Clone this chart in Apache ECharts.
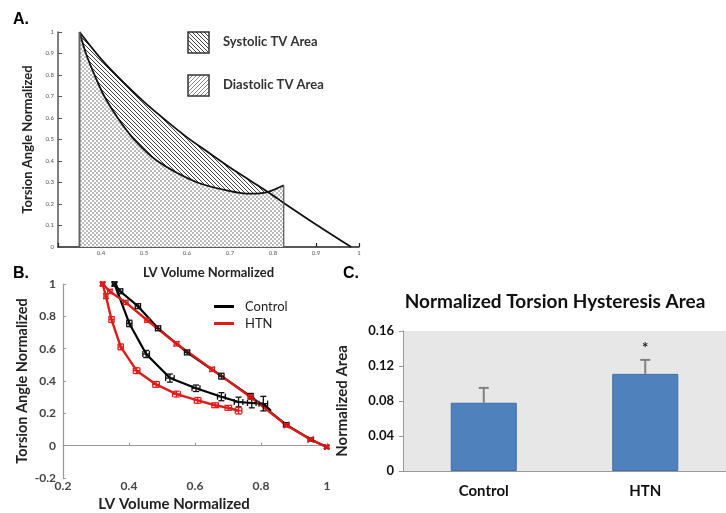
<!DOCTYPE html>
<html>
<head>
<meta charset="utf-8">
<script src="https://cdn.jsdelivr.net/npm/echarts@6/dist/echarts.min.js"></script>
<style>
  html, body { margin: 0; padding: 0; background: #fff; }
  #main { width: 726px; height: 513px; }
</style>
</head>
<body>
<div id="main"></div>
<script>
// Panel A: idealised torsion-volume loop
const sysCurve = [[0.35, 1], [0.4, 0.875], [0.45, 0.77], [0.5, 0.675], [0.55, 0.59], [0.6, 0.51],
  [0.65, 0.44], [0.7, 0.37], [0.75, 0.305], [0.8, 0.24], [0.825, 0.205], [0.9, 0.105], [0.982, 0]];
const sysArea = [[0.35, 1], [0.4, 0.875], [0.45, 0.77], [0.5, 0.675], [0.55, 0.59], [0.6, 0.51],
  [0.65, 0.44], [0.7, 0.37], [0.75, 0.305], [0.8, 0.24], [0.825, 0.205]];
const diaCurve = [[0.35, 1], [0.365, 0.9], [0.385, 0.8], [0.408, 0.7], [0.439, 0.6], [0.477, 0.5],
  [0.531, 0.4], [0.624, 0.3], [0.7, 0.26], [0.748, 0.248], [0.785, 0.254], [0.825, 0.287]];
const edgeLeft = [[0.35, 0], [0.35, 1]];
const edgeRight = [[0.825, 0], [0.825, 0.287]];
const legendA = ['Systolic TV Area', 'Diastolic TV Area'];

// Panel B: measured loops, [x, y] and [xErr, yErr]
const ctrlUpper = [[0.356, 1.0], [0.373, 0.955], [0.427, 0.863], [0.488, 0.726], [0.576, 0.577],
  [0.68, 0.43], [0.769, 0.305], [0.876, 0.13], [0.951, 0.038], [0.999, -0.008]];
const ctrlUpperErr = [[0.006, 0.012], [0.008, 0.015], [0.008, 0.015], [0.008, 0.015], [0.008, 0.015],
  [0.008, 0.018], [0.008, 0.018], [0.008, 0.012], [0.008, 0.01], [0.006, 0.01]];
const ctrlLower = [[0.356, 1.0], [0.401, 0.756], [0.452, 0.567], [0.524, 0.418], [0.603, 0.355],
  [0.68, 0.303], [0.732, 0.27], [0.772, 0.264], [0.807, 0.26], [0.83, 0.215]];
const ctrlLowerErr = [[0.006, 0.012], [0.008, 0.02], [0.01, 0.022], [0.013, 0.025], [0.012, 0.02],
  [0.012, 0.025], [0.013, 0.03], [0.013, 0.03], [0.013, 0.045], [0, 0]];
const htnUpper = [[0.32, 1.0], [0.342, 0.954], [0.39, 0.886], [0.455, 0.776], [0.544, 0.63],
  [0.652, 0.472], [0.769, 0.3], [0.878, 0.125], [0.95, 0.038], [0.999, -0.008]];
const htnUpperErr = [[0.006, 0.012], [0.007, 0.013], [0.007, 0.013], [0.007, 0.013], [0.007, 0.013],
  [0.007, 0.013], [0.007, 0.013], [0.007, 0.01], [0.007, 0.01], [0.005, 0.008]];
const htnLower = [[0.32, 1.0], [0.33, 0.925], [0.347, 0.78], [0.375, 0.611], [0.423, 0.464],
  [0.482, 0.379], [0.544, 0.319], [0.608, 0.28], [0.661, 0.25], [0.701, 0.234], [0.732, 0.216]];
const htnLowerErr = [[0.005, 0.01], [0.006, 0.015], [0.008, 0.018], [0.008, 0.018], [0.01, 0.018],
  [0.01, 0.018], [0.012, 0.018], [0.01, 0.018], [0.01, 0.015], [0.01, 0.015], [0.01, 0.02]];

// Panel C: hysteresis area bars
const groups = ['Control', 'HTN'];
const areaMean = [0.078, 0.111];
const areaErr = [0.017, 0.016];

const FONT = 'Lato, "Open Sans", sans-serif';

function hatch(forward, color) {
  const s = 4;
  const c = document.createElement('canvas');
  c.width = c.height = s;
  const g = c.getContext('2d');
  g.strokeStyle = color;
  g.lineWidth = 1;
  g.beginPath();
  if (forward) {
    g.moveTo(0, s); g.lineTo(s, 0);
    g.moveTo(-1, 1); g.lineTo(1, -1);
    g.moveTo(s - 1, s + 1); g.lineTo(s + 1, s - 1);
  } else {
    g.moveTo(0, 0); g.lineTo(s, s);
    g.moveTo(-1, s - 1); g.lineTo(1, s + 1);
    g.moveTo(s - 1, -1); g.lineTo(s + 1, 1);
  }
  g.stroke();
  return c;
}

// fine grey checkerboard, opaque, for the overlap under the diastolic curve
function checker() {
  const c = document.createElement('canvas');
  c.width = c.height = 4;
  const g = c.getContext('2d');
  g.fillStyle = '#fff';
  g.fillRect(0, 0, 4, 4);
  g.fillStyle = '#bdbdbd';
  g.fillRect(0, 0, 2, 2);
  g.fillRect(2, 2, 2, 2);
  return c;
}

const sysPattern = { image: hatch(false, '#444'), repeat: 'repeat' };
const diaPattern = { image: hatch(true, '#888'), repeat: 'repeat' };
const overlapPattern = { image: checker(), repeat: 'repeat' };

function withErr(points, errs) {
  return points.map((p, i) => [p[0], p[1], errs[i][0], errs[i][1]]);
}

function errRender(color) {
  return function (params, api) {
    const x = api.value(0), y = api.value(1), ex = api.value(2), ey = api.value(3);
    if (!ex && !ey) return;
    const l = api.coord([x - ex, y]), r = api.coord([x + ex, y]);
    const t = api.coord([x, y + ey]), b = api.coord([x, y - ey]);
    const c = 3;
    const st = { stroke: color, lineWidth: 1.3 };
    const seg = (x1, y1, x2, y2) => ({ type: 'line', shape: { x1, y1, x2, y2 }, style: st });
    return {
      type: 'group',
      children: [
        seg(l[0], l[1], r[0], r[1]),
        seg(l[0], l[1] - c, l[0], l[1] + c),
        seg(r[0], r[1] - c, r[0], r[1] + c),
        seg(t[0], t[1], b[0], b[1]),
        seg(t[0] - c, t[1], t[0] + c, t[1]),
        seg(b[0] - c, b[1], b[0] + c, b[1])
      ]
    };
  };
}

const chart = echarts.init(document.getElementById('main'));

const boldName = (size) => ({ fontFamily: FONT, fontWeight: 'bold', fontSize: size, color: '#222' });

const option = {
  animation: false,
  backgroundColor: '#fff',
  textStyle: { fontFamily: FONT },
  legend: {
    data: ['Control', 'HTN'],
    orient: 'vertical',
    left: 209,
    top: 295,
    icon: 'rect',
    itemWidth: 20,
    itemHeight: 3,
    itemGap: 4,
    textStyle: { fontFamily: FONT, fontSize: 13, color: '#222', padding: [0, 0, 0, 6] }
  },
  grid: [
    { left: 58, top: 32, width: 301, height: 215 },
    { left: 63, top: 284, width: 264, height: 202 },
    { left: 403, top: 331, width: 323, height: 140, show: true, backgroundColor: '#e7e7e7', borderWidth: 0 }
  ],
  xAxis: [
    {
      gridIndex: 0, type: 'value', min: 0.3, max: 1, interval: 0.1,
      name: 'LV Volume Normalized', nameLocation: 'middle', nameGap: 19,
      nameTextStyle: boldName(13),
      axisLine: { lineStyle: { color: '#222', width: 1.5 } },
      axisTick: { inside: true, length: 4, lineStyle: { color: '#222', width: 1.2 } },
      axisLabel: {
        fontSize: 6, color: '#555', margin: 3,
        formatter: v => (Math.abs(v - 0.3) < 1e-6 ? '' : String(+v.toFixed(1)))
      },
      splitLine: { show: false }
    },
    {
      gridIndex: 1, type: 'value', min: 0.2, max: 1, interval: 0.2,
      name: 'LV Volume Normalized', nameLocation: 'middle', nameGap: 19,
      nameTextStyle: Object.assign(boldName(15), { padding: [0, 42, 0, 0] }),
      axisLine: { lineStyle: { color: '#999', width: 1.2 } },
      axisTick: { inside: true, length: 3, lineStyle: { color: '#999' } },
      axisLabel: { fontSize: 12, fontWeight: 'bold', color: '#444', margin: 2 },
      splitLine: { show: false }
    },
    {
      gridIndex: 2, type: 'category', data: groups,
      axisLine: { lineStyle: { color: '#999' } },
      axisTick: { length: 5, lineStyle: { color: '#999' } },
      axisLabel: { fontSize: 15, fontWeight: 'bold', color: '#111', margin: 13 }
    }
  ],
  yAxis: [
    {
      gridIndex: 0, type: 'value', min: 0, max: 1, interval: 0.1,
      name: 'Torsion Angle Normalized', nameLocation: 'middle', nameGap: 24,
      nameTextStyle: boldName(13),
      axisLine: { show: true, lineStyle: { color: '#555', width: 1.5 } },
      axisTick: { show: true, inside: true, length: 4, lineStyle: { color: '#555' } },
      axisLabel: { fontSize: 6, color: '#555', margin: 4 },
      splitLine: { show: false }
    },
    {
      gridIndex: 1, type: 'value', min: -0.2, max: 1, interval: 0.2,
      name: 'Torsion Angle Normalized', nameLocation: 'middle', nameGap: 33,
      nameTextStyle: boldName(14.5),
      axisLine: { show: true, lineStyle: { color: '#999', width: 1.2 } },
      axisTick: { show: true, inside: true, length: 3, lineStyle: { color: '#999' } },
      axisLabel: { fontSize: 12, fontWeight: 'bold', color: '#444', margin: 7 },
      splitLine: { show: false }
    },
    {
      gridIndex: 2, type: 'value', min: 0, max: 0.16, interval: 0.04,
      name: 'Normalized Area', nameLocation: 'middle', nameGap: 53,
      nameTextStyle: boldName(15),
      axisLine: { show: true, lineStyle: { color: '#999' } },
      axisTick: { show: true, length: 4, lineStyle: { color: '#999' } },
      axisLabel: { fontSize: 13, fontWeight: 'bold', color: '#111', margin: 9 },
      splitLine: { show: false }
    }
  ],
  series: [
    // Panel A
    {
      type: 'line', xAxisIndex: 0, yAxisIndex: 0, data: diaCurve, smooth: 0.3,
      showSymbol: false, lineStyle: { width: 0, opacity: 0 },
      areaStyle: { color: diaPattern, opacity: 1 }, z: 1, silent: true
    },
    {
      type: 'line', xAxisIndex: 0, yAxisIndex: 0, data: sysArea, smooth: 0.3,
      showSymbol: false, lineStyle: { width: 0, opacity: 0 },
      areaStyle: { color: sysPattern, opacity: 1 }, z: 1, silent: true
    },
    {
      type: 'line', xAxisIndex: 0, yAxisIndex: 0, data: diaCurve, smooth: 0.3,
      showSymbol: false, lineStyle: { color: '#111', width: 1.8 },
      areaStyle: { color: overlapPattern, opacity: 1 }, z: 2, silent: true
    },
    {
      type: 'line', xAxisIndex: 0, yAxisIndex: 0, data: sysCurve, smooth: 0.3,
      showSymbol: false, lineStyle: { color: '#111', width: 1.8 }, z: 3, silent: true
    },
    {
      type: 'line', xAxisIndex: 0, yAxisIndex: 0, data: edgeLeft,
      showSymbol: false, lineStyle: { color: '#666', width: 2 }, z: 3, silent: true
    },
    {
      type: 'line', xAxisIndex: 0, yAxisIndex: 0, data: edgeRight,
      showSymbol: false, lineStyle: { color: '#555', width: 1.2 }, z: 3, silent: true
    },
    // Panel B
    {
      name: 'Control', type: 'line', xAxisIndex: 1, yAxisIndex: 1, data: ctrlUpper,
      showSymbol: false, color: '#000', lineStyle: { color: '#000', width: 2.2 }, z: 3
    },
    {
      name: 'Control', type: 'line', xAxisIndex: 1, yAxisIndex: 1, data: ctrlLower,
      showSymbol: false, color: '#000', lineStyle: { color: '#000', width: 2.2 }, z: 3
    },
    {
      name: 'HTN', type: 'line', xAxisIndex: 1, yAxisIndex: 1, data: htnUpper,
      showSymbol: false, color: '#dd1c1a', lineStyle: { color: '#dd1c1a', width: 2.4 }, z: 4
    },
    {
      name: 'HTN', type: 'line', xAxisIndex: 1, yAxisIndex: 1, data: htnLower,
      showSymbol: false, color: '#dd1c1a', lineStyle: { color: '#dd1c1a', width: 2.4 }, z: 4
    },
    {
      type: 'custom', xAxisIndex: 1, yAxisIndex: 1, renderItem: errRender('#111'),
      data: withErr(ctrlUpper, ctrlUpperErr).concat(withErr(ctrlLower, ctrlLowerErr)),
      encode: { x: 0, y: 1 }, z: 5, silent: true
    },
    {
      type: 'custom', xAxisIndex: 1, yAxisIndex: 1, renderItem: errRender('#dd1c1a'),
      data: withErr(htnUpper, htnUpperErr).concat(withErr(htnLower, htnLowerErr)),
      encode: { x: 0, y: 1 }, z: 6, silent: true
    },
    // Panel C
    {
      type: 'bar', xAxisIndex: 2, yAxisIndex: 2, barWidth: 66,
      itemStyle: { color: '#4f81bd', borderColor: '#3d6ea8', borderWidth: 1 },
      data: areaMean.map((v, i) => i === 1
        ? { value: v, label: { show: true, position: 'top', distance: 18, formatter: '*',
            fontSize: 15, fontWeight: 'bold', color: '#222' } }
        : v),
      z: 2
    },
    {
      type: 'custom', xAxisIndex: 2, yAxisIndex: 2,
      data: areaMean.map((v, i) => [i, v, areaErr[i]]),
      encode: { x: 0, y: 1 },
      renderItem: function (params, api) {
        const lo = api.coord([api.value(0), api.value(1)]);
        const hi = api.coord([api.value(0), api.value(1) + api.value(2)]);
        const st = { stroke: '#808080', lineWidth: 2 };
        return {
          type: 'group',
          children: [
            { type: 'line', shape: { x1: lo[0], y1: lo[1], x2: hi[0], y2: hi[1] }, style: st },
            { type: 'line', shape: { x1: hi[0] - 5, y1: hi[1], x2: hi[0] + 5, y2: hi[1] }, style: st }
          ]
        };
      },
      z: 3, silent: true
    }
  ],
  graphic: [
    { type: 'text', left: 13, top: 12, style: { text: 'A.', font: 'bold 16px "Liberation Sans", Arial', fill: '#000' } },
    { type: 'text', left: 13, top: 266, style: { text: 'B.', font: 'bold 16px "Liberation Sans", Arial', fill: '#000' } },
    { type: 'text', left: 343, top: 266, style: { text: 'C.', font: 'bold 16px "Liberation Sans", Arial', fill: '#000' } },
    {
      type: 'text', x: 555, y: 302,
      style: { text: 'Normalized Torsion Hysteresis Area', font: 'bold 19px Lato, "Open Sans", sans-serif',
        fill: '#111', textAlign: 'center', textVerticalAlign: 'middle' }
    },
    { type: 'rect', shape: { x: 188, y: 32, width: 21, height: 21 },
      style: { fill: sysPattern, stroke: '#333', lineWidth: 1.5 } },
    { type: 'rect', shape: { x: 188, y: 75, width: 21, height: 21 },
      style: { fill: diaPattern, stroke: '#333', lineWidth: 1.5 } },
    { type: 'text', x: 223, y: 42,
      style: { text: legendA[0], font: 'bold 13px Lato, "Open Sans", sans-serif', fill: '#333', textVerticalAlign: 'middle' } },
    { type: 'text', x: 223, y: 85,
      style: { text: legendA[1], font: 'bold 13px Lato, "Open Sans", sans-serif', fill: '#333', textVerticalAlign: 'middle' } }
  ]
};

chart.setOption(option);
</script>
</body>
</html>
